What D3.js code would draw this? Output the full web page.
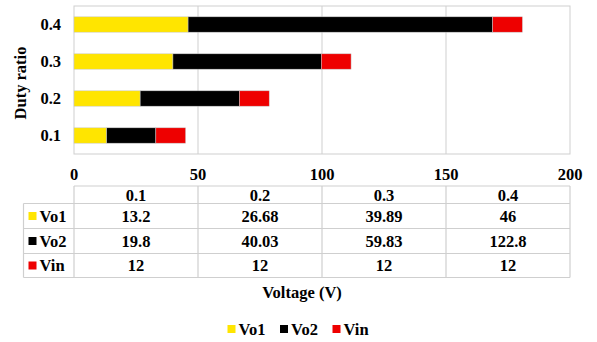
<!DOCTYPE html>
<html>
<head>
<meta charset="utf-8">
<script src="https://cdn.jsdelivr.net/npm/d3@7"></script>
<style>
  html, body { margin: 0; padding: 0; background: #fff; }
</style>
</head>
<body>
<svg id="chart" width="597" height="342"></svg>
<script>
// Duty ratio categories and stacked voltage series (V)
const categories = ["0.1", "0.2", "0.3", "0.4"];
const seriesNames = ["Vo1", "Vo2", "Vin"];
const vo1 = [13.2, 26.68, 39.89, 46];
const vo2 = [19.8, 40.03, 59.83, 122.8];
const vin = [12, 12, 12, 12];
const xTicks = [0, 50, 100, 150, 200];
const colors = ["#FFE500", "#000000", "#EE0000"];

const svg = d3.select("#chart").append("g")
  .style("font-family", '"Liberation Serif"')
  .style("font-weight", "bold");
const plotLeft = 74, plotRight = 570, plotTop = 6, plotBottom = 154;
const gridColor = "#cfcfcf";
const fontSize = 16.5;

const x = d3.scaleLinear().domain([0, 200]).range([plotLeft, plotRight]);
const y = d3.scaleBand()
  .domain(categories.slice().reverse())
  .range([plotTop, plotBottom])
  .paddingInner(0.585)
  .paddingOuter(0.2925);

// plot frame and vertical gridlines
svg.append("rect")
  .attr("x", plotLeft).attr("y", plotTop)
  .attr("width", plotRight - plotLeft).attr("height", plotBottom - plotTop)
  .attr("fill", "none").attr("stroke", gridColor).attr("stroke-width", 1);

svg.append("g").selectAll("line")
  .data(xTicks.slice(1, -1))
  .join("line")
  .attr("x1", d => x(d)).attr("x2", d => x(d))
  .attr("y1", plotTop).attr("y2", plotBottom)
  .attr("stroke", gridColor).attr("stroke-width", 1);

// stacked bars
const rows = categories.map((c, i) => ({ cat: c, Vo1: vo1[i], Vo2: vo2[i], Vin: vin[i] }));
const stack = d3.stack().keys(seriesNames)(rows);

svg.append("g").selectAll("g")
  .data(stack)
  .join("g")
  .attr("fill", (d, i) => colors[i])
  .selectAll("rect")
  .data(d => d)
  .join("rect")
  .attr("x", d => x(d[0]))
  .attr("width", d => x(d[1]) - x(d[0]))
  .attr("y", d => y(d.data.cat))
  .attr("height", y.bandwidth())
  .attr("stroke", "#c8c8c8").attr("stroke-width", 0.5);

// category labels
svg.append("g").selectAll("text")
  .data(categories)
  .join("text")
  .attr("x", plotLeft - 13)
  .attr("y", d => y(d) + y.bandwidth() / 2)
  .attr("dy", "0.35em")
  .attr("text-anchor", "end")
  .attr("font-size", fontSize)
  .text(d => d);

svg.append("text")
  .attr("transform", `translate(26, ${(plotTop + plotBottom) / 2 + 3}) rotate(-90)`)
  .attr("text-anchor", "middle")
  .attr("font-size", fontSize)
  .text("Duty ratio");

// x axis tick labels
svg.append("g").selectAll("text")
  .data(xTicks)
  .join("text")
  .attr("x", d => x(d))
  .attr("y", 174)
  .attr("dy", "0.35em")
  .attr("text-anchor", "middle")
  .attr("font-size", fontSize)
  .text(d => d);

// data table under the axis
const tableLeft = 23.5;
const rowEdges = [186, 203.5, 228.5, 253.5, 277.5];
const colEdges = xTicks.map(d => x(d));
const table = svg.append("g").attr("stroke", gridColor).attr("stroke-width", 1.2);

// horizontal lines
rowEdges.forEach((ry, i) => {
  table.append("line")
    .attr("x1", i === 0 ? plotLeft : tableLeft).attr("x2", plotRight)
    .attr("y1", ry).attr("y2", ry);
});
// vertical lines
colEdges.forEach(cx => {
  table.append("line")
    .attr("x1", cx).attr("x2", cx)
    .attr("y1", rowEdges[0]).attr("y2", rowEdges[4]);
});
table.append("line")
  .attr("x1", tableLeft).attr("x2", tableLeft)
  .attr("y1", rowEdges[1]).attr("y2", rowEdges[4]);

const colCenter = i => (colEdges[i] + colEdges[i + 1]) / 2;
const rowCenter = i => (rowEdges[i] + rowEdges[i + 1]) / 2;

// header row: duty ratios
svg.append("g").selectAll("text")
  .data(categories)
  .join("text")
  .attr("x", (d, i) => colCenter(i))
  .attr("y", rowCenter(0))
  .attr("dy", "0.35em")
  .attr("text-anchor", "middle")
  .attr("font-size", fontSize)
  .text(d => d);

const seriesValues = [vo1, vo2, vin];
seriesNames.forEach((name, r) => {
  const cy = rowCenter(r + 1);
  svg.append("rect")
    .attr("x", 28.5).attr("y", cy - 4)
    .attr("width", 8).attr("height", 8)
    .attr("fill", colors[r]);
  svg.append("text")
    .attr("x", 39.5).attr("y", cy)
    .attr("dy", "0.35em")
    .attr("font-size", fontSize)
    .text(name);
  svg.append("g").selectAll("text")
    .data(seriesValues[r])
    .join("text")
    .attr("x", (d, i) => colCenter(i))
    .attr("y", cy)
    .attr("dy", "0.35em")
    .attr("text-anchor", "middle")
    .attr("font-size", fontSize)
    .text(d => d);
});

// axis title
svg.append("text")
  .attr("x", 302).attr("y", 292)
  .attr("dy", "0.35em")
  .attr("text-anchor", "middle")
  .attr("font-size", fontSize)
  .text("Voltage (V)");

// bottom legend
const legendX = [227.5, 280, 332.5];
const legend = svg.append("g").selectAll("g")
  .data(seriesNames)
  .join("g")
  .attr("transform", (d, i) => `translate(${legendX[i]}, 329)`);
legend.append("rect")
  .attr("x", 0).attr("y", -4)
  .attr("width", 8).attr("height", 8)
  .attr("fill", (d, i) => colors[i]);
legend.append("text")
  .attr("x", 11).attr("y", 0)
  .attr("dy", "0.35em")
  .attr("font-size", fontSize)
  .text(d => d);

// serif bold face on every label
svg.selectAll("text")
  .style("font-family", '"Liberation Serif"')
  .style("font-weight", "bold")
  .attr("fill", "#000");
</script>
</body>
</html>
